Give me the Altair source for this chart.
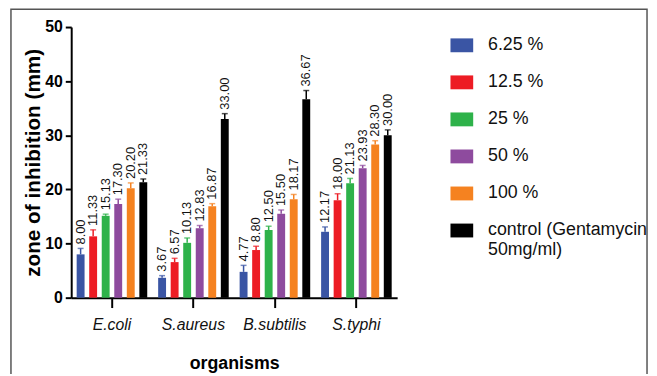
import altair as alt
import pandas as pd

organisms = ["E.coli", "S.aureus", "B.subtilis", "S.typhi"]
concentrations = ["6.25 %", "12.5 %", "25 %", "50 %", "100 %", "control (Gentamycin 50mg/ml)"]
colors = ["#3A55A4", "#ED1C24", "#2EB24A", "#8E4B9E", "#F58220", "#000000"]

means = {
    "E.coli":     [8.00, 11.33, 15.13, 17.30, 20.20, 21.33],
    "S.aureus":   [3.67, 6.57, 10.13, 12.83, 16.87, 33.00],
    "B.subtilis": [4.77, 8.80, 12.50, 15.50, 18.17, 36.67],
    "S.typhi":    [12.17, 18.00, 21.13, 23.93, 28.30, 30.00],
}
errors = {
    "E.coli":     [1.1, 1.2, 0.3, 0.9, 1.0, 0.6],
    "S.aureus":   [0.4, 0.7, 0.9, 0.5, 0.5, 1.0],
    "B.subtilis": [1.2, 0.7, 0.7, 0.7, 0.9, 1.6],
    "S.typhi":    [0.9, 1.2, 0.9, 0.5, 0.7, 1.0],
}

rows = []
for o in organisms:
    for c, m, e in zip(concentrations, means[o], errors[o]):
        rows.append({"organism": o, "conc": c, "value": m, "upper": m + e})
df = pd.DataFrame(rows)

FONT = "Liberation Sans"

x = alt.X("organism:N", sort=organisms, scale=alt.Scale(paddingInner=0, paddingOuter=0),
          axis=alt.Axis(title="organisms", labelAngle=0, labelFont=FONT, labelFontSize=16,
                        labelFontStyle="italic", labelColor="#111", labelPadding=9,
                        tickSize=10, tickWidth=2, tickColor="black", domainWidth=2,
                        domainColor="black", titleFont=FONT, titleFontSize=18,
                        titleFontWeight="bold", titleColor="black", titlePadding=23))
xo = alt.XOffset("conc:N", sort=concentrations,
                 scale=alt.Scale(paddingInner=0.37, paddingOuter=0.435))
color = alt.Color("conc:N", sort=concentrations,
                  scale=alt.Scale(domain=concentrations, range=colors),
                  legend=alt.Legend(title=None, orient="none", legendX=384, legendY=7,
                                    labelFont=FONT, labelFontSize=18, labelColor="#111",
                                    symbolType="M-1,-0.61H1V0.61H-1Z", symbolSize=529,
                                    symbolStrokeWidth=0, symbolOpacity=1,
                                    labelOffset=15, rowPadding=16.5, labelLimit=300,
                                    labelExpr="datum.label == 'control (Gentamycin 50mg/ml)' ? ['control (Gentamycin', '50mg/ml)'] : datum.label"))
nolegend = alt.Color("conc:N", sort=concentrations,
                     scale=alt.Scale(domain=concentrations, range=colors), legend=None)

base = alt.Chart(df)

bars = base.mark_bar().encode(
    x=x, xOffset=xo,
    y=alt.Y("value:Q", scale=alt.Scale(domain=[0, 50]),
            axis=alt.Axis(title="zone of inhibition (mm)", values=[0, 10, 20, 30, 40, 50],
                          grid=False, labelFont=FONT, labelFontSize=16, labelFontWeight="bold",
                          labelColor="black", tickSize=6, tickWidth=2, tickColor="black",
                          domainWidth=2, domainColor="black", labelPadding=3,
                          titleFont=FONT, titleFontSize=21, titleFontWeight="bold",
                          titleColor="black", titlePadding=1)),
    color=color,
)

err = base.mark_rule(strokeWidth=1.5).encode(
    x=x, xOffset=xo, y="value:Q", y2="upper:Q", color=nolegend,
)
caps = base.mark_tick(thickness=1.5, size=6).encode(
    x=x, xOffset=xo, y="upper:Q", color=nolegend,
)
labels = base.mark_text(angle=270, align="left", baseline="middle", dx=4,
                        font=FONT, fontSize=13, color="#111").encode(
    x=x, xOffset=xo, y="upper:Q",
    text=alt.Text("value:Q", format=".2f"),
)

frame = alt.Chart(pd.DataFrame({"f": [0]})).mark_rect(
    fill="transparent", stroke="#555", strokeWidth=1.5
).encode(x=alt.value(-61), x2=alt.value(583), y=alt.value(-18), y2=alt.value(400))

chart = alt.layer(frame, bars, err, caps, labels).properties(
    width=330, height=274,
    autosize=alt.AutoSizeParams(type="none"),
    padding={"left": 64, "top": 17, "right": 255, "bottom": 75},
).configure_view(stroke=None)

chart.save("out.html", embed_options={"renderer": "svg", "actions": False})
